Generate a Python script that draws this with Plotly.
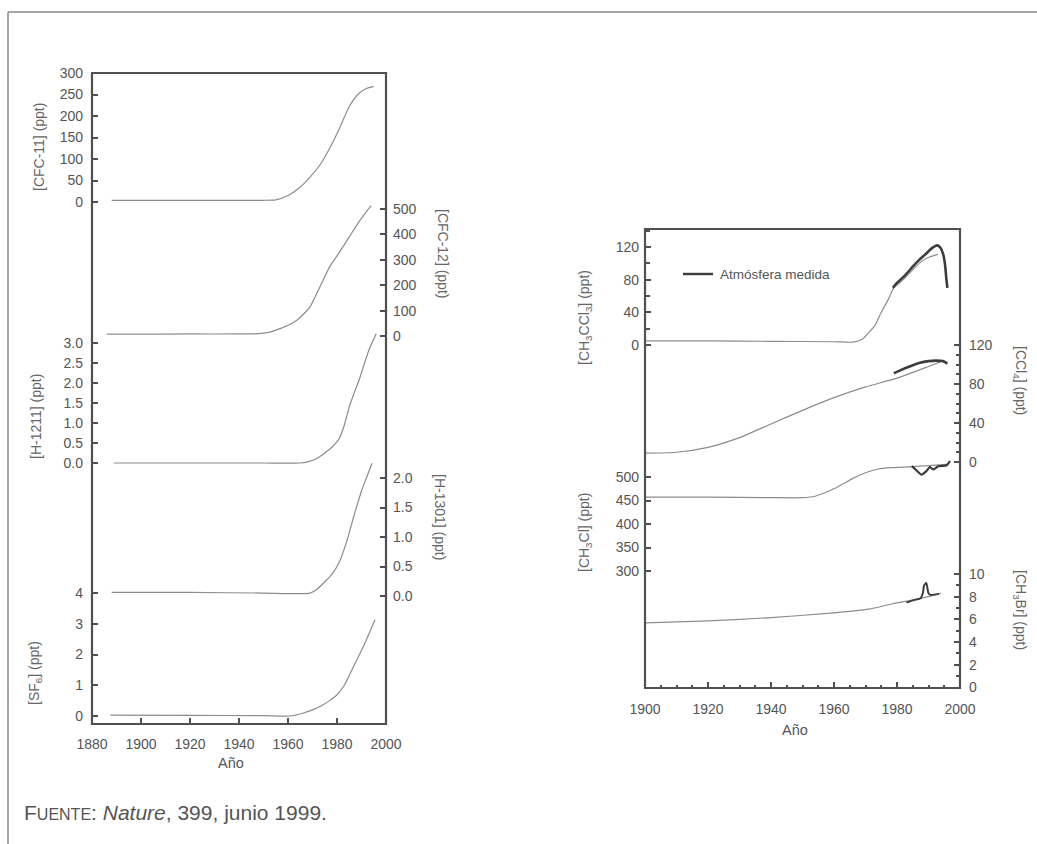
import plotly.graph_objects as go

# ---------------- data ----------------
cfc11_year = [1888, 1900, 1920, 1940, 1950, 1955, 1960, 1965, 1969, 1973, 1977, 1981, 1985, 1989, 1992, 1995]
cfc11 = [4, 4, 4, 4, 4, 5, 15, 35, 58, 86, 125, 171, 222, 253, 264, 269]

cfc12_year = [1886, 1900, 1920, 1940, 1948, 1953, 1957, 1960, 1964, 1969, 1973, 1977, 1981, 1985, 1989, 1992, 1994]
cfc12 = [7, 7, 8, 8, 9, 16, 30, 42, 65, 115, 193, 272, 330, 390, 450, 490, 513]

h1211_year = [1889, 1920, 1950, 1965, 1968, 1972, 1975, 1978, 1981, 1983, 1985, 1987, 1989, 1991, 1993, 1996]
h1211 = [0, 0, 0, 0, 0.03, 0.12, 0.25, 0.4, 0.62, 0.95, 1.4, 1.75, 2.07, 2.45, 2.82, 3.23]

h1301_year = [1888, 1920, 1950, 1969, 1972, 1975, 1978, 1981, 1984, 1987, 1990, 1992, 1994.3]
h1301 = [0.06, 0.06, 0.05, 0.05, 0.12, 0.24, 0.37, 0.58, 0.93, 1.37, 1.78, 2.0, 2.25]

sf6_year = [1887.5, 1920, 1950, 1961, 1966, 1970, 1974, 1977, 1980, 1983, 1987, 1991, 1995.5]
sf6 = [0.03, 0.02, 0.01, 0.0, 0.09, 0.2, 0.35, 0.5, 0.69, 1.0, 1.65, 2.3, 3.13]

ch3ccl3_model_year = [1900, 1920, 1940, 1960, 1966, 1969, 1971, 1973, 1975, 1977, 1979, 1982, 1985, 1988, 1990.5, 1993]
ch3ccl3_model = [5, 5, 4.5, 4, 3.5, 7, 15, 24, 40, 54, 70, 80, 92, 103, 108, 111]
ch3ccl3_meas_year = [1978.7, 1980, 1982.5, 1985, 1987, 1989, 1991.2, 1992.8, 1993.8, 1994.6, 1995.2, 1995.7, 1996]
ch3ccl3_meas = [70, 76, 85, 96, 104, 111, 119, 122, 119, 112, 100, 80, 70]

ccl4_model_year = [1900, 1910, 1920, 1930, 1940, 1950, 1960, 1970, 1980, 1990, 1994]
ccl4_model = [9, 10, 15, 25, 39, 53, 66, 77, 86, 98, 103]
ccl4_meas_year = [1979, 1981, 1984, 1987, 1990, 1992.5, 1994.5, 1996]
ccl4_meas = [91, 94, 98, 101.5, 103.5, 104, 103.5, 101]

ch3cl_model_year = [1900, 1920, 1940, 1950, 1954, 1958, 1962, 1966, 1970, 1974, 1978, 1982, 1990, 1996]
ch3cl_model = [457, 457, 456, 456, 459, 469, 482, 497, 509, 517, 520, 521, 524, 527]
ch3cl_meas_year = [1984.7, 1986.2, 1987.8, 1989.4, 1990.4, 1991.5, 1993.1, 1995.8, 1996.8]
ch3cl_meas = [523, 514, 505, 513, 521, 516, 523, 525, 534]

ch3br_model_year = [1900, 1918, 1939, 1960, 1971, 1979, 1984, 1990, 1994]
ch3br_model = [5.7, 5.85, 6.14, 6.58, 6.9, 7.4, 7.65, 8.0, 8.3]
ch3br_meas_year = [1983, 1985.4, 1987.5, 1988.2, 1988.6, 1989.3, 1990, 1990.6, 1993.3]
ch3br_meas = [7.48, 7.7, 7.87, 8.3, 9.0, 9.2, 8.3, 8.16, 8.25]

left_years = [1880, 1900, 1920, 1940, 1960, 1980, 2000]
right_years = [1900, 1920, 1940, 1960, 1980, 2000]

# ---------------- layout helpers ----------------
W, H = 1037, 844
def px(x):
    return x / W
def py(y):
    return 1 - y / H

def yrange(v0, p0, v1, p1, top, bot):
    k = (p0 - p1) / (v1 - v0)
    return [v0 - (bot - p0) / k, v1 + (p1 - top) / k]

LT, LB, LL, LR = 73, 724, 92, 386
RT, RB, RL, RR = 229, 688, 645, 960

TXT = "#555555"
AX = "#505050"
MODEL = "#8c8c8c"
MEAS = "#3c3c3c"
FONT = "Liberation Sans, Arial, Helvetica, sans-serif"
tickfont = dict(family=FONT, size=14, color=TXT)

def xax(domain, rng, vals, side, overlay=None, anchor=None, minor=None, standoff=8):
    d = dict(domain=domain, range=rng, tickmode="array", tickvals=vals,
             ticktext=[str(v) for v in vals], ticks="inside", ticklen=6, tickwidth=2,
             tickcolor=AX, showgrid=False, zeroline=False, showline=False, automargin=False,
             tickfont=tickfont, side=side, anchor=anchor, ticklabelstandoff=standoff)
    if overlay:
        d["overlaying"] = overlay
    if minor:
        d["minor"] = minor
    return d

def yax(rng, vals, side, fmt=None, overlay=None, anchor=None, domain=None, minor=None, standoff=5):
    d = dict(range=rng, tickmode="array", tickvals=vals, ticks="inside", ticklen=6,
             tickwidth=2, tickcolor=AX, showgrid=False, zeroline=False, showline=False,
             automargin=False,
             tickfont=tickfont, side=side, anchor=anchor, ticklabelstandoff=standoff)
    if fmt:
        d["tickformat"] = fmt
    if overlay:
        d["overlaying"] = overlay
    if domain:
        d["domain"] = domain
    if minor:
        d["minor"] = minor
    return d

fig = go.Figure()

def line(x, y, xa, ya, color=MODEL, width=1.2):
    fig.add_trace(go.Scatter(x=x, y=y, xaxis=xa, yaxis=ya, mode="lines",
                             line=dict(color=color, width=width, shape="spline", smoothing=0.6),
                             showlegend=False, hoverinfo="skip"))

line(cfc11_year, cfc11, "x", "y")
line(cfc12_year, cfc12, "x", "y2")
line(h1211_year, h1211, "x", "y3")
line(h1301_year, h1301, "x", "y4")
line(sf6_year, sf6, "x", "y5")

line(ch3ccl3_model_year, ch3ccl3_model, "x2", "y6")
line(ch3ccl3_meas_year, ch3ccl3_meas, "x2", "y6", MEAS, 2.6)
line(ccl4_model_year, ccl4_model, "x2", "y7")
line(ccl4_meas_year, ccl4_meas, "x2", "y7", MEAS, 2.6)
line(ch3cl_model_year, ch3cl_model, "x2", "y8")
line(ch3cl_meas_year, ch3cl_meas, "x2", "y8", MEAS, 2.2)
line(ch3br_model_year, ch3br_model, "x2", "y9")
line(ch3br_meas_year, ch3br_meas, "x2", "y9", MEAS, 2.0)

Ldom = [px(LL), px(LR)]
Rdom = [px(RL), px(RR)]

minor_r = dict(tickmode="array", tickvals=list(range(1900, 2001, 5)), ticks="inside",
               ticklen=3, tickwidth=1.5, tickcolor=AX)

fig.update_layout(
    width=W, height=H, margin=dict(l=0, r=0, t=0, b=0, pad=0), autosize=False,
    paper_bgcolor="white", plot_bgcolor="rgba(0,0,0,0)",
    xaxis=xax(Ldom, [1880, 2000], left_years, "bottom", anchor="y", standoff=10),
    xaxis3=xax(Ldom, [1880, 2000], left_years, "top", overlay="x", anchor="y", standoff=10),
    xaxis2=xax(Rdom, [1900, 2000], right_years, "bottom", anchor="y6", minor=minor_r, standoff=11),
    xaxis4=xax(Rdom, [1900, 2000], right_years, "top", overlay="x2", anchor="y6", minor=minor_r, standoff=7),
    yaxis=yax(yrange(0, 202, 300, 73, LT, LB), [0, 50, 100, 150, 200, 250, 300], "left",
              anchor="x", domain=[py(LB), py(LT)], standoff=8),
    yaxis2=yax(yrange(0, 336, 500, 209, LT, LB), [0, 100, 200, 300, 400, 500], "right",
               overlay="y", anchor="x", standoff=6),
    yaxis3=yax(yrange(0, 463, 3, 343, LT, LB), [0, 0.5, 1, 1.5, 2, 2.5, 3], "left",
               fmt=".1f", overlay="y", anchor="x", standoff=8),
    yaxis4=yax(yrange(0, 596, 2, 478, LT, LB), [0, 0.5, 1, 1.5, 2], "right",
               fmt=".1f", overlay="y", anchor="x", standoff=6),
    yaxis5=yax(yrange(0, 716, 4, 593, LT, LB), [0, 1, 2, 3, 4], "left",
               overlay="y", anchor="x", standoff=8),
    yaxis6=yax(yrange(0, 345, 120, 247, RT, RB), [0, 40, 80, 120], "left",
               anchor="x2", domain=[py(RB), py(RT)], standoff=5,
               minor=dict(tickmode="array", tickvals=[20, 60, 100, 140], ticks="inside",
                          ticklen=5, tickwidth=1.5, tickcolor=AX)),
    yaxis7=yax(yrange(0, 462, 120, 345, RT, RB), [0, 40, 80, 120], "right",
               overlay="y6", anchor="x2", standoff=8,
               minor=dict(tickmode="array", tickvals=list(range(0, 121, 10)), ticks="inside",
                          ticklen=4, tickwidth=1.5, tickcolor=AX)),
    yaxis8=yax(yrange(300, 571, 500, 477, RT, RB), [300, 350, 400, 450, 500], "left",
               overlay="y6", anchor="x2", standoff=5),
    yaxis9=yax(yrange(0, 687.5, 10, 574, RT, RB), [0, 2, 4, 6, 8, 10], "right",
               overlay="y6", anchor="x2", standoff=8,
               minor=dict(tickmode="array", tickvals=list(range(0, 11)), ticks="inside",
                          ticklen=4, tickwidth=1.5, tickcolor=AX)),
)

shapes = [
    dict(type="rect", xref="paper", yref="paper", x0=px(LL), x1=px(LR), y0=py(LB), y1=py(LT),
         line=dict(color=AX, width=2.2)),
    dict(type="rect", xref="paper", yref="paper", x0=px(RL), x1=px(RR), y0=py(RB), y1=py(RT),
         line=dict(color=AX, width=2.2)),
    dict(type="line", xref="paper", yref="paper", x0=px(683), x1=px(713), y0=py(274), y1=py(274),
         line=dict(color=MEAS, width=2.4)),
    dict(type="line", xref="paper", yref="paper", x0=px(8), x1=1, y0=py(12), y1=py(12),
         line=dict(color="#8a8a8a", width=1.5)),
    dict(type="line", xref="paper", yref="paper", x0=px(8), x1=px(8), y0=py(12), y1=0,
         line=dict(color="#8a8a8a", width=1.5)),
]
fig.update_layout(shapes=shapes)

tfont = dict(family=FONT, size=14, color="#666666")
def ann(text, x, y, angle=0, font=tfont, xanchor="center"):
    fig.add_annotation(text=text, x=px(x), y=py(y), xref="paper", yref="paper",
                       showarrow=False, textangle=angle, font=font, xanchor=xanchor,
                       yanchor="middle")

ann("[CFC-11] (ppt)", 39, 147, -90)
ann("[H-1211] (ppt)", 36, 417, -90)
ann("[SF<sub>6</sub>] (ppt)", 35, 673, -90)
ann("[CFC-12] (ppt)", 443, 253, 90)
ann("[H-1301] (ppt)", 440, 517, 90)
ann("Año", 231, 763, 0, dict(family=FONT, size=14.5, color=TXT))
ann("Año", 795, 730, 0, dict(family=FONT, size=14.5, color=TXT))
ann("[CH<sub>3</sub>CCl<sub>3</sub>] (ppt)", 585, 318, -90)
ann("[CH<sub>3</sub>Cl] (ppt)", 585, 533, -90)
ann("[CCl<sub>4</sub>] (ppt)", 1020, 380, 90)
ann("[CH<sub>3</sub>Br] (ppt)", 1020, 610, 90)
ann("Atmósfera medida", 718, 274, 0, dict(family=FONT, size=13.5, color=TXT), xanchor="left")
ann("F<span style='font-size:16px'>UENTE</span>: <i>Nature</i>, 399, junio 1999.", 22, 812, 0,
    dict(family="Liberation Sans Narrow, Arial Narrow, Liberation Sans, sans-serif", size=21,
         color="#555555"), xanchor="left")

fig.write_html("out.html", post_script="document.body.style.margin='0';document.body.style.overflow='hidden';")
